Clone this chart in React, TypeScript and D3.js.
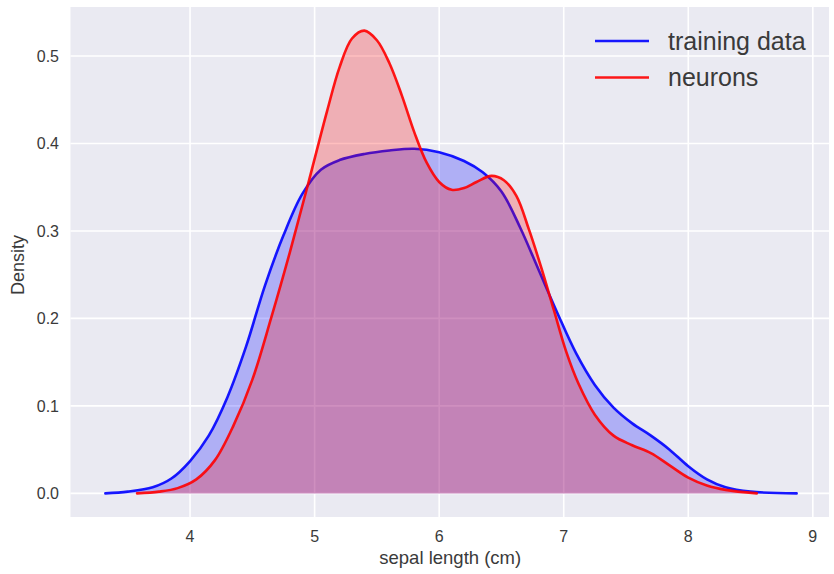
import React from "react";
import * as d3 from "d3";

// Training data KDE (sepal length cm, density)
const trainX = [3.32, 3.5, 3.7, 3.85, 4.0, 4.15, 4.3, 4.45, 4.6, 4.75, 4.9, 5.05, 5.2, 5.4, 5.6, 5.8, 6.0, 6.2, 6.35, 6.5, 6.65, 6.8, 6.95, 7.1, 7.25, 7.4, 7.55, 7.7, 7.85, 8.0, 8.15, 8.3, 8.5, 8.87];
const trainY = [0, 0.002, 0.007, 0.017, 0.037, 0.066, 0.11, 0.168, 0.237, 0.295, 0.342, 0.37, 0.381, 0.388, 0.392, 0.394, 0.39, 0.38, 0.367, 0.345, 0.304, 0.255, 0.206, 0.16, 0.124, 0.098, 0.08, 0.066, 0.05, 0.031, 0.016, 0.007, 0.002, 0];

// Neurons KDE
const neurX = [3.575, 3.75, 3.9, 4.05, 4.2, 4.35, 4.5, 4.65, 4.8, 4.95, 5.1, 5.2, 5.3, 5.4, 5.5, 5.6, 5.7, 5.8, 5.9, 6.0, 6.1, 6.2, 6.3, 6.42, 6.52, 6.62, 6.72, 6.82, 6.92, 7.02, 7.12, 7.25, 7.4, 7.55, 7.7, 7.85, 8.0, 8.15, 8.3, 8.55];
const neurY = [0, 0.002, 0.006, 0.016, 0.038, 0.078, 0.13, 0.2, 0.275, 0.355, 0.437, 0.487, 0.52, 0.529, 0.518, 0.492, 0.455, 0.413, 0.378, 0.356, 0.347, 0.349, 0.356, 0.363, 0.358, 0.34, 0.302, 0.258, 0.21, 0.162, 0.125, 0.09, 0.066, 0.055, 0.046, 0.032, 0.018, 0.009, 0.004, 0];

const xTicks = [4, 5, 6, 7, 8, 9];
const yTicks = [0.0, 0.1, 0.2, 0.3, 0.4, 0.5];
const xDomain = [3.04, 9.13];
const yDomain = [-0.027, 0.556];

const seriesNames = ["training data", "neurons"];
const seriesColors = ["#0000ff", "#ff0000"];

const W = 834;
const H = 574;
const left = 70.5;
const right = 829;
const top = 7;
const bottom = 517;

export default function App() {
  const x = d3.scaleLinear().domain(xDomain).range([left, right]);
  const y = d3.scaleLinear().domain(yDomain).range([bottom, top]);

  const series = [
    trainX.map((v, i) => [v, trainY[i]] as [number, number]),
    neurX.map((v, i) => [v, neurY[i]] as [number, number]),
  ];

  const curve = d3.curveCatmullRom.alpha(0.5);
  const line = d3
    .line<[number, number]>()
    .x((d) => x(d[0]))
    .y((d) => y(d[1]))
    .curve(curve);
  const area = d3
    .area<[number, number]>()
    .x((d) => x(d[0]))
    .y0(y(0))
    .y1((d) => y(d[1]))
    .curve(curve);

  const font = "'Liberation Sans', Arial, sans-serif";
  const textColor = "#3a3a3a";

  return (
    <div style={{ position: "absolute", left: 0, top: 0 }}>
      <svg width={W} height={H} style={{ display: "block", background: "#ffffff" }}>
        <rect x={left} y={top} width={right - left} height={bottom - top} fill="#eaeaf2" />
        {xTicks.map((t) => (
          <line key={"gx" + t} x1={x(t)} x2={x(t)} y1={top} y2={bottom} stroke="#ffffff" strokeWidth={1.6} />
        ))}
        {yTicks.map((t) => (
          <line key={"gy" + t} x1={left} x2={right} y1={y(t)} y2={y(t)} stroke="#ffffff" strokeWidth={1.6} />
        ))}
        {series.map((s, i) => (
          <g key={"s" + i}>
            <path d={area(s) || ""} fill={seriesColors[i]} fillOpacity={0.25} stroke="none" />
            <path d={line(s) || ""} fill="none" stroke={seriesColors[i]} strokeWidth={2.6} strokeOpacity={0.9} strokeLinejoin="round" strokeLinecap="round" />
          </g>
        ))}
        {xTicks.map((t) => (
          <text key={"tx" + t} x={x(t)} y={542} textAnchor="middle" fontFamily={font} fontSize={16} fill={textColor}>
            {t}
          </text>
        ))}
        {yTicks.map((t) => (
          <text key={"ty" + t} x={59} y={y(t)} dy="0.35em" textAnchor="end" fontFamily={font} fontSize={16} fill={textColor}>
            {t.toFixed(1)}
          </text>
        ))}
        <text x={(left + right) / 2 + 0.5} y={564} textAnchor="middle" fontFamily={font} fontSize={18.5} fill={textColor}>
          sepal length (cm)
        </text>
        <text transform={`translate(24,265) rotate(-90)`} textAnchor="middle" fontFamily={font} fontSize={18} fill={textColor}>
          Density
        </text>
        {seriesNames.map((n, i) => (
          <g key={"lg" + i}>
            <line x1={595} x2={649} y1={41 + i * 36.5} y2={41 + i * 36.5} stroke={seriesColors[i]} strokeWidth={2.6} strokeOpacity={0.9} />
            <text x={668} y={41 + i * 36.5} dy="0.35em" fontFamily={font} fontSize={25} fill={textColor}>
              {n}
            </text>
          </g>
        ))}
      </svg>
    </div>
  );
}
